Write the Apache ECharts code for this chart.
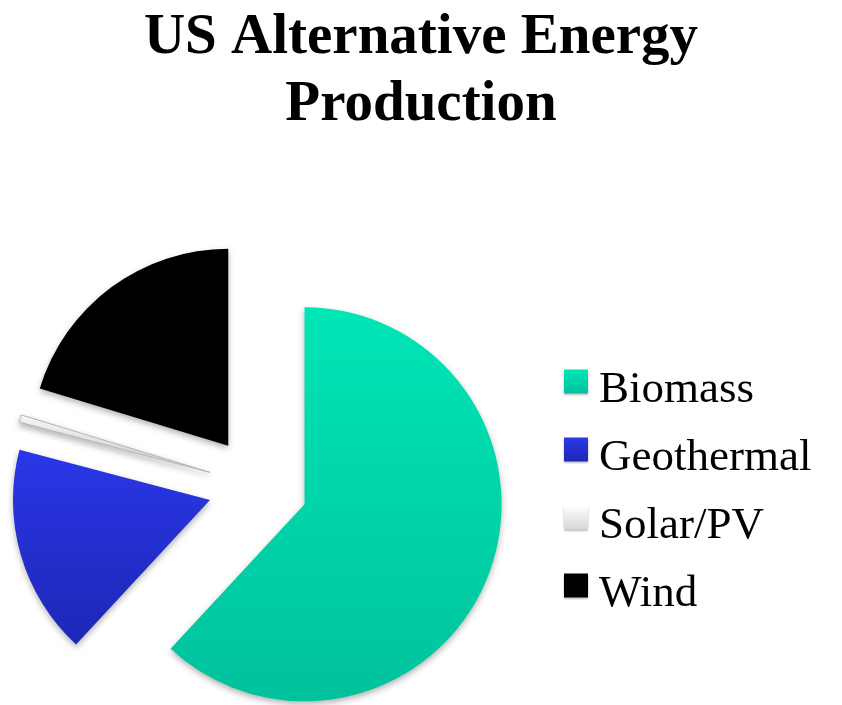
<!DOCTYPE html>
<html>
<head>
<meta charset="utf-8">
<script src="https://cdn.jsdelivr.net/npm/echarts@6/dist/echarts.min.js"></script>
<style>
html,body{margin:0;padding:0;background:#fff;}
#main{width:842px;height:705px;}
</style>
</head>
<body>
<div id="main"></div>
<script>
const titleText = 'US Alternative Energy\nProduction';
const categories = ['Biomass', 'Geothermal', 'Solar/PV', 'Wind'];
const values = [61.9, 17.2, 0.6, 20.3];
const colors = [
  ['#00E6B6', '#00C29C'],
  ['#2A37E8', '#1D27B5'],
  ['#FFFFFF', '#D6D6D6'],
  ['#000000', '#000000']
];

function grad(c) {
  return new echarts.graphic.LinearGradient(0, 0, 0, 1, [
    {offset: 0, color: c[0]}, {offset: 1, color: c[1]}
  ]);
}

const data = categories.map((name, i) => ({
  name: name,
  value: values[i],
  selected: true,
  itemStyle: {
    color: grad(colors[i]),
    borderColor: name === 'Solar/PV' ? '#b5b5b5' : 'transparent',
    borderWidth: name === 'Solar/PV' ? 1 : 0
  }
}));

const chart = echarts.init(document.getElementById('main'));
chart.setOption({
  animation: false,
  backgroundColor: '#ffffff',
  title: {
    text: titleText,
    left: 'center',
    top: 0,
    textStyle: {
      fontFamily: 'Liberation Serif',
      fontWeight: 'bold',
      fontSize: 57,
      lineHeight: 67,
      color: '#000'
    }
  },
  legend: {
    orient: 'vertical',
    left: 564,
    top: 350,
    padding: 0,
    itemWidth: 24,
    itemHeight: 24,
    itemGap: 5,
    icon: 'rect',
    selectedMode: false,
    itemStyle: {
      borderWidth: 0,
      shadowBlur: 2,
      shadowOffsetY: 1,
      shadowColor: 'rgba(0,0,0,0.25)'
    },
    formatter: function (name) { return '{n|' + name + '}'; },
    textStyle: {
      fontFamily: 'Liberation Serif',
      fontSize: 45,
      color: '#000',
      rich: {
        n: {
          fontFamily: 'Liberation Serif',
          fontSize: 45,
          lineHeight: 45,
          color: '#000',
          padding: [18, 0, 0, 6]
        }
      }
    },
    data: categories
  },
  series: [{
    type: 'pie',
    center: [258, 486],
    radius: 197,
    startAngle: 90,
    clockwise: true,
    selectedMode: 'multiple',
    selectedOffset: 50,
    label: {show: false},
    labelLine: {show: false},
    emphasis: {disabled: true},
    itemStyle: {
      shadowBlur: 6,
      shadowOffsetY: 3,
      shadowColor: 'rgba(0,0,0,0.3)'
    },
    data: data
  }]
});
</script>
</body>
</html>
